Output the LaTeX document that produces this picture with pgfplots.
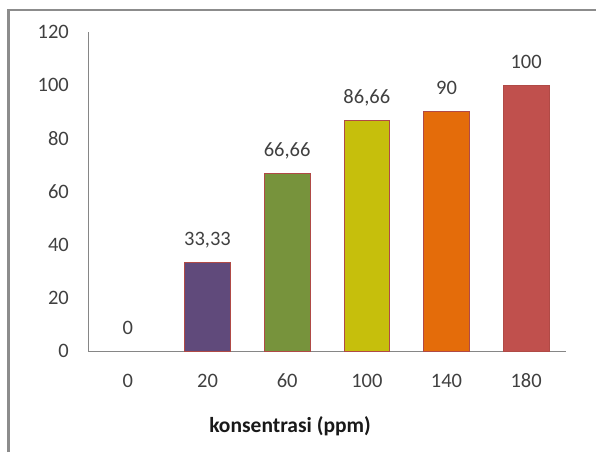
\documentclass[border=0pt]{standalone}
\usepackage{fontspec}
\setmainfont{Carlito}
\usepackage{pgfplots}
\pgfplotsset{compat=1.18}

\definecolor{barpurple}{RGB}{96,74,123}
\definecolor{bargreen}{RGB}{119,147,60}
\definecolor{baryellow}{RGB}{198,191,12}
\definecolor{barorange}{RGB}{228,108,10}
\definecolor{barred}{RGB}{192,80,77}
\definecolor{baredge}{RGB}{176,74,70}
\definecolor{txtgray}{RGB}{64,64,64}
\definecolor{axgray}{RGB}{134,134,134}
\definecolor{framegray}{RGB}{140,140,140}

\begin{document}
\begin{tikzpicture}
\path[use as bounding box] (0pt,0pt) rectangle (596pt,452pt);
% outer chart frame (cut off at right and bottom)
\draw[framegray, line width=2.5pt] (8.7pt,0pt) -- (8.7pt,442pt) -- (596pt,442pt);
\begin{axis}[
    at={(88pt,101pt)}, anchor=south west,
    scale only axis, width=478pt, height=319pt,
    xmin=-0.5, xmax=5.5, ymin=0, ymax=120,
    xtick={0,...,5}, xticklabels={0,20,60,100,140,180},
    ytick={0,20,...,120},
    /pgf/number format/assume math mode=true,
    axis x line=bottom, axis y line=left,
    axis line style={axgray, line width=1pt, -},
    major tick length=0pt, tick style={draw=none},
    ticklabel style={font=\fontsize{20.5}{24}\selectfont, text=txtgray, inner sep=0pt},
    yticklabel style={anchor=east, xshift=-19pt},
    xticklabel style={anchor=base, yshift=-36pt},
    xlabel={konsentrasi (ppm)},
    xlabel style={at={(axis description cs:0.4226,-0.254)}, anchor=base,
                  font=\bfseries\fontsize{21.5}{25}\selectfont, text=black!90},
    ybar, bar width=45.5pt,
    point meta=explicit symbolic,
    nodes near coords,
    nodes near coords style={anchor=base, inner sep=0pt, yshift=17pt,
                             text=txtgray, font=\fontsize{20.5}{24}\selectfont},
    every axis plot/.append style={bar shift=0pt, draw=baredge, line width=0.8pt},
]
\addplot[draw=none, fill=none] coordinates {(0,0) [0]};
\addplot[fill=barpurple] coordinates {(1,33.33) [33,33]};
\addplot[fill=bargreen] coordinates {(2,66.66) [66,66]};
\addplot[fill=baryellow] coordinates {(3,86.66) [86,66]};
\addplot[fill=barorange] coordinates {(4,90) [90]};
\addplot[fill=barred] coordinates {(5,100) [100]};
\end{axis}
\end{tikzpicture}
\end{document}
